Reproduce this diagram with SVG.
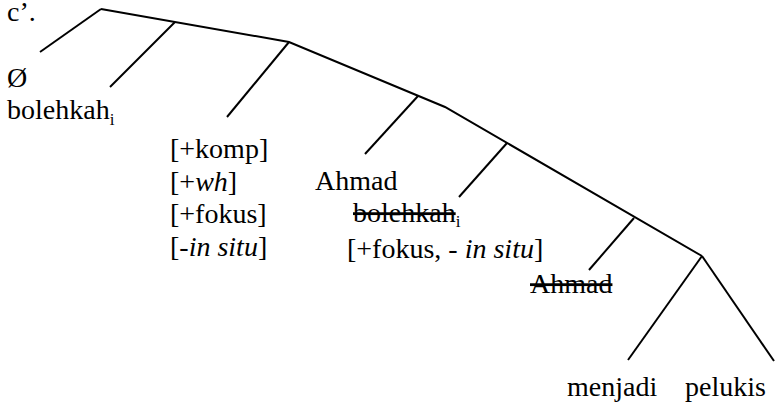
<svg xmlns="http://www.w3.org/2000/svg" width="781" height="406" viewBox="0 0 781 406">
<style>
text{font-family:"Liberation Serif","Times New Roman",serif;font-size:28px;fill:#000}
.sub{font-size:17px}
.it{font-style:italic}
.st{text-decoration:line-through}
.c line,.c polyline{stroke:#000;stroke-width:2;fill:none;stroke-linecap:butt;stroke-linejoin:miter}
</style>
<rect width="781" height="406" fill="#fff"/>
<g id="connectors" class="c">
<polyline points="101,9 289,42 445,107 702,256"/>
<line x1="101" y1="9" x2="40" y2="52"/>
<line x1="175" y1="22" x2="110" y2="87"/>
<line x1="289" y1="42" x2="227" y2="117"/>
<line x1="418" y1="96" x2="365" y2="154"/>
<line x1="507" y1="143" x2="459" y2="197"/>
<line x1="634" y1="218" x2="589" y2="270"/>
<line x1="702" y1="256" x2="628" y2="360"/>
<line x1="702" y1="256" x2="774" y2="361"/>
</g>
<g id="label-c"><text x="7" y="21">c’.</text></g>
<g id="node-empty"><text x="7" y="87">Ø</text></g>
<g id="node-bolehkah"><text x="7" y="119">bolehkah<tspan class="sub" dy="6">i</tspan></text></g>
<g id="node-features">
<text x="170" y="158">[+komp]</text>
<text x="170" y="191">[+<tspan class="it">wh</tspan>]</text>
<text x="170" y="223">[+fokus]</text>
<text x="170" y="256">[-<tspan class="it">in situ</tspan>]</text>
</g>
<g id="node-ahmad"><text x="315" y="190">Ahmad</text></g>
<g id="node-bolehkah-trace"><text x="353" y="222"><tspan class="st">bolehkah</tspan><tspan class="sub" dy="5">i</tspan></text></g>
<g id="node-fokus"><text x="347" y="258">[+fokus, - <tspan class="it">in situ</tspan>]</text></g>
<g id="node-ahmad-trace"><text x="530" y="293" class="st">Ahmad</text></g>
<g id="node-menjadi"><text x="567" y="396">menjadi</text></g>
<g id="node-pelukis"><text x="685" y="396">pelukis</text></g>
</svg>
